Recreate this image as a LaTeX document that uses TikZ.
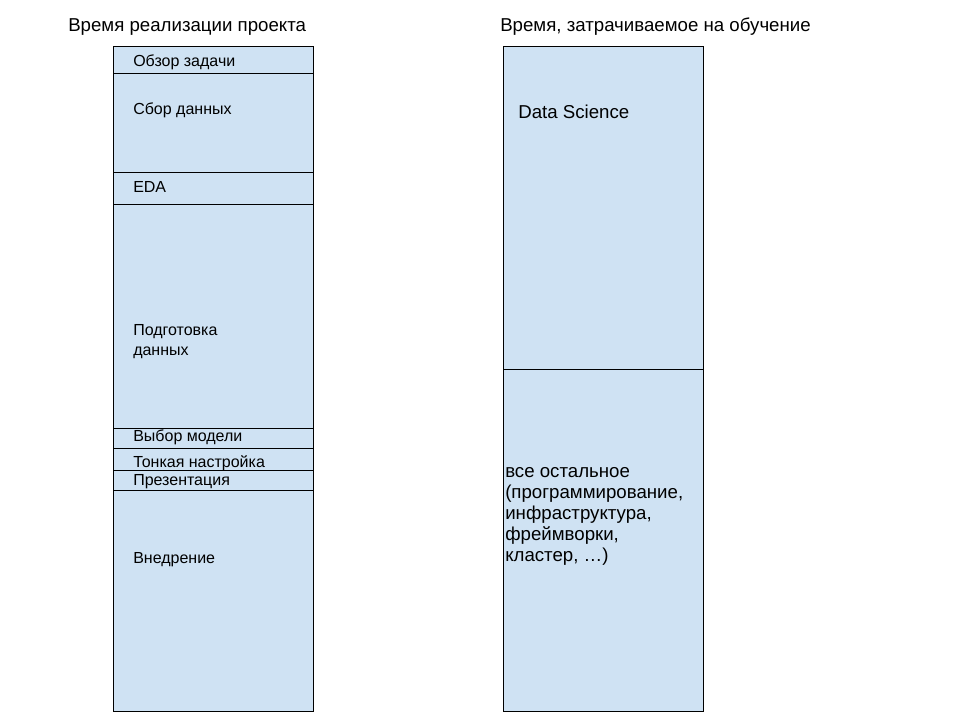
\documentclass[tikz,border=0pt]{standalone}
\usepackage{fontspec}
\setmainfont{Liberation Sans}
\usetikzlibrary{positioning}
\definecolor{slotblue}{HTML}{CFE2F3}

\begin{document}
\begin{tikzpicture}[x=0.75pt,y=-0.75pt,
  slot/.style={draw=black,fill=slotblue,line width=0.75pt},
  lbl/.style={anchor=base west,inner sep=0pt,align=left,
    font=\fontsize{12}{14.5}\selectfont},
  big/.style={anchor=base west,inner sep=0pt,align=left,
    font=\fontsize{14}{15.6}\selectfont}]
\useasboundingbox[fill=white] (0,0) rectangle (960,720);
% titles
\node[big] (ttime) at (68,32) {Время реализации проекта};
\node[big] (tlearn) at (500,32) {Время, затрачиваемое на обучение};
% project stages
\foreach \top/\bot in {47/74,74/173,173/205,205/428,428/448,448/470,470/490,490/711}
  \draw[slot] (113,\top) rectangle (313,\bot);
\node[lbl] (obzor) at (133,67) {Обзор задачи};
\node[lbl] (sbor) at (133,115) {Сбор данных};
\node[lbl] (eda) at (133,193) {EDA};
\node[lbl] (podg) at (133,355) {Подготовка\\данных};
\node[lbl] (vybor) at (133,441) {Выбор модели};
\node[lbl] (tonk) at (133,467) {Тонкая настройка};
\node[lbl] (prez) at (133,485) {Презентация};
\node[lbl] (vnedr) at (133,563) {Внедрение};
% learning time
\foreach \top/\bot in {47/369,369/711}
  \draw[slot] (503,\top) rectangle (703,\bot);
\node[big] (ds) at (518,119) {Data Science};
\node[big] (rest) at (505,561) {все остальное\\(программирование,\\инфраструктура,\\фреймворки,\\кластер, …)};
\end{tikzpicture}
\end{document}
